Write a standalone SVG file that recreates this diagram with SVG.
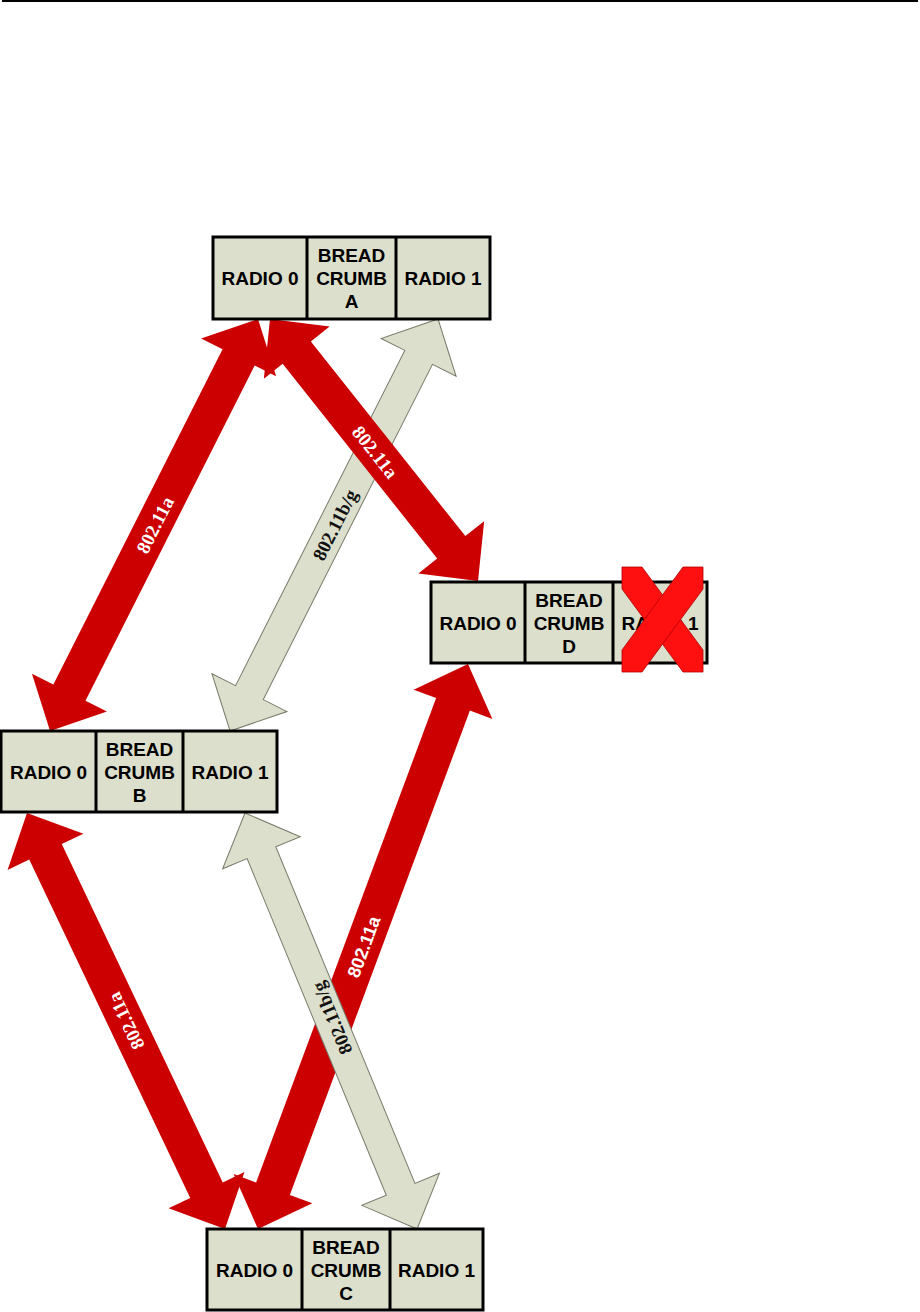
<svg xmlns="http://www.w3.org/2000/svg" width="920" height="1312" viewBox="0 0 920 1312">
<style>
  .cell { fill: #dcdfcb; stroke: #000; stroke-width: 3; }
  .div { stroke: #000; stroke-width: 3; }
  .t { font-family: "Liberation Sans", Arial, sans-serif; font-weight: bold; font-size: 19px; fill: #000; text-anchor: middle; }
  .red { fill: #cc0000; }
  .grey { fill: #dcdfcb; stroke: #7a7a6c; stroke-width: 1; }
  .lbl { font-family: "Liberation Serif", "Times New Roman", serif; font-weight: bold; font-size: 19px; text-anchor: middle; dominant-baseline: central; }
  .lw { fill: #ffffff; }
  .lb { fill: #111111; }
  .xbar { fill: #ff1010; stroke: #b30000; stroke-width: 0.8; }
</style>
<rect x="2" y="0" width="916" height="2" fill="#000"/>

<g id="connectors">
  <!-- A.R0 - B.R0 -->
  <polygon class="red" transform="translate(258,319) rotate(116.78)" points="0,0 43,-42 43,-18 418.5,-18 418.5,-42 461.5,0 418.5,42 418.5,18 43,18 43,42"/>
  <!-- A.R1 - B.R1 (grey) -->
  <polygon class="grey" transform="translate(438,319) rotate(116.78)" points="0,0 43,-42 43,-15.5 418.5,-15.5 418.5,-42 461.5,0 418.5,42 418.5,15.5 43,15.5 43,42"/>
  <!-- A.R0 - D.R0 -->
  <polygon class="red" transform="translate(270,319) rotate(51.55)" points="0,0 43,-42 43,-18 291.5,-18 291.5,-42 334.5,0 291.5,42 291.5,18 43,18 43,42"/>
  <!-- B.R0 - C.R0 -->
  <polygon class="red" transform="translate(27,813) rotate(64.55)" points="0,0 43,-42 43,-18 417.7,-18 417.7,-42 460.7,0 417.7,42 417.7,18 43,18 43,42"/>
  <!-- D.R0 - C.R0 -->
  <polygon class="red" transform="translate(468,664) rotate(110.39)" points="0,0 43,-42 43,-18 559.8,-18 559.8,-42 602.8,0 559.8,42 559.8,18 43,18 43,42"/>
  <!-- B.R1 - C.R1 (grey) -->
  <polygon class="grey" transform="translate(245,813) rotate(67.53)" points="0,0 43,-42 43,-15.5 407.2,-15.5 407.2,-42 450.2,0 407.2,42 407.2,15.5 43,15.5 43,42"/>

  <text class="lbl lw" transform="translate(155,525) rotate(-63.22)">802.11a</text>
  <text class="lbl lb" transform="translate(335,525) rotate(-63.22)">802.11b/g</text>
  <text class="lbl lw" transform="translate(375,452) rotate(51.55)">802.11a</text>
  <text class="lbl lw" transform="translate(126,1021) rotate(-115.45)">802.11a</text>
  <text class="lbl lw" style="font-family: 'Liberation Sans', Arial, sans-serif; font-size: 18px;" transform="translate(364,947) rotate(-69.61)">802.11a</text>
  <text class="lbl lb" transform="translate(332,1018) rotate(-112.47)">802.11b/g</text>
</g>

<g id="node-a">
  <rect class="cell" x="213" y="237" width="277" height="82"/>
  <line class="div" x1="307" y1="237" x2="307" y2="319"/>
  <line class="div" x1="396" y1="237" x2="396" y2="319"/>
  <text class="t" x="260" y="285">RADIO 0</text>
  <text class="t" x="351.5" y="262">BREAD</text>
  <text class="t" x="351.5" y="285">CRUMB</text>
  <text class="t" x="351.5" y="308">A</text>
  <text class="t" x="443" y="285">RADIO 1</text>
</g>

<g id="node-d">
  <rect class="cell" x="431" y="582" width="276" height="81"/>
  <line class="div" x1="525" y1="582" x2="525" y2="663"/>
  <line class="div" x1="613" y1="582" x2="613" y2="663"/>
  <text class="t" x="478" y="630">RADIO 0</text>
  <text class="t" x="569" y="607">BREAD</text>
  <text class="t" x="569" y="630">CRUMB</text>
  <text class="t" x="569" y="653">D</text>
  <text class="t" x="660" y="630">RADIO 1</text>
</g>

<g id="node-b">
  <rect class="cell" x="1" y="731" width="276" height="81"/>
  <line class="div" x1="96" y1="731" x2="96" y2="812"/>
  <line class="div" x1="183" y1="731" x2="183" y2="812"/>
  <text class="t" x="48.5" y="779">RADIO 0</text>
  <text class="t" x="139.5" y="756">BREAD</text>
  <text class="t" x="139.5" y="779">CRUMB</text>
  <text class="t" x="139.5" y="802">B</text>
  <text class="t" x="230" y="779">RADIO 1</text>
</g>

<g id="node-c">
  <rect class="cell" x="207" y="1229" width="276" height="81"/>
  <line class="div" x1="302" y1="1229" x2="302" y2="1310"/>
  <line class="div" x1="390" y1="1229" x2="390" y2="1310"/>
  <text class="t" x="254.5" y="1277">RADIO 0</text>
  <text class="t" x="346" y="1254">BREAD</text>
  <text class="t" x="346" y="1277">CRUMB</text>
  <text class="t" x="346" y="1300">C</text>
  <text class="t" x="436.5" y="1277">RADIO 1</text>
</g>

<g id="cross-d-radio1">
  <polygon class="xbar" points="622,567 642,567 703,650 703,672 683,672 622,589"/>
  <polygon class="xbar" points="703,567 683,567 622,650 622,672 642,672 703,589"/>
</g>
</svg>
